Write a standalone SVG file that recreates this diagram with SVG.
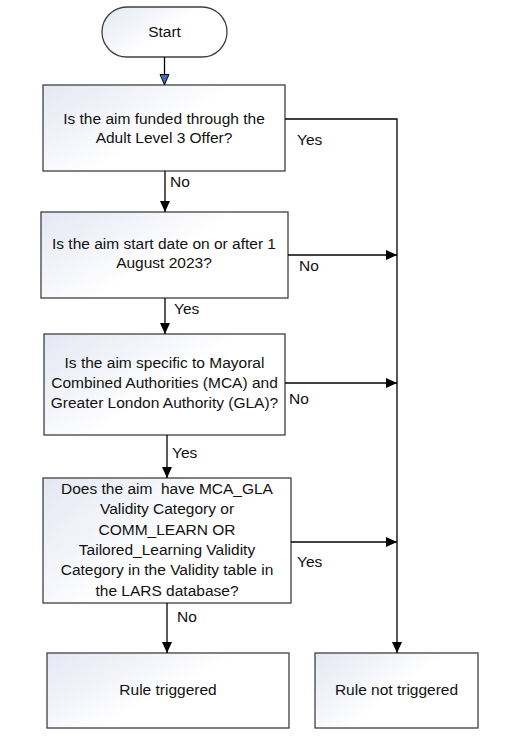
<svg xmlns="http://www.w3.org/2000/svg" width="526" height="736" viewBox="0 0 526 736">
<defs>
<linearGradient id="g" x1="0" y1="0" x2="1" y2="0.6">
<stop offset="0" stop-color="#e4e7f4"/>
<stop offset="0.6" stop-color="#ffffff"/>
</linearGradient>
<marker id="ah" markerWidth="12" markerHeight="12" refX="11" refY="5" orient="auto" markerUnits="userSpaceOnUse">
<path d="M0,0 L11,5 L0,10 Z" fill="#000"/>
</marker>
<marker id="ahb" markerWidth="12" markerHeight="12" refX="11" refY="5" orient="auto" markerUnits="userSpaceOnUse">
<path d="M0.5,0.5 L10.5,5 L0.5,9.5 Z" fill="#3f6fba" stroke="#000" stroke-width="1"/>
</marker>
</defs>
<style>
.box{fill:url(#g);stroke:#404040;stroke-width:1.3}
.t{font-family:"Liberation Sans",Arial,sans-serif;font-size:15.5px;fill:#111;text-anchor:middle}
.l{font-family:"Liberation Sans",Arial,sans-serif;font-size:15.5px;fill:#111}
.c{fill:none;stroke:#000;stroke-width:1.3}
</style>
<rect width="526" height="736" fill="#fff"/>
<g id="start">
<rect class="box" x="102" y="7" width="125" height="50" rx="25" ry="25"/>
<text class="t" x="164.5" y="37">Start</text>
</g>
<g id="q1">
<rect class="box" x="43" y="85" width="242" height="86"/>
<text class="t" x="164" y="124">Is the aim funded through the</text>
<text class="t" x="164" y="143">Adult Level 3 Offer?</text>
</g>
<g id="q2">
<rect class="box" x="41" y="212" width="247" height="86"/>
<text class="t" x="164" y="249">Is the aim start date on or after 1</text>
<text class="t" x="164" y="268">August 2023?</text>
</g>
<g id="q3">
<rect class="box" x="44" y="334" width="241" height="101"/>
<text class="t" x="164.5" y="368">Is the aim specific to Mayoral</text>
<text class="t" x="164.5" y="388">Combined Authorities (MCA) and</text>
<text class="t" x="164.5" y="408">Greater London Authority (GLA)?</text>
</g>
<g id="q4">
<rect class="box" x="43" y="478" width="248" height="125"/>
<text class="t" x="167" y="494" xml:space="preserve">Does the aim  have MCA_GLA</text>
<text class="t" x="167" y="514">Validity Category or</text>
<text class="t" x="167" y="535">COMM_LEARN OR</text>
<text class="t" x="167" y="555">Tailored_Learning Validity</text>
<text class="t" x="167" y="575">Category in the Validity table in</text>
<text class="t" x="167" y="596">the LARS database?</text>
</g>
<g id="r1">
<rect class="box" x="47" y="653" width="242" height="75"/>
<text class="t" x="168" y="695">Rule triggered</text>
</g>
<g id="r2">
<rect class="box" x="315" y="653" width="163" height="75"/>
<text class="t" x="396.5" y="695">Rule not triggered</text>
</g>
<g id="connectors">
<path class="c" d="M164.5,57 V85" marker-end="url(#ahb)"/>
<path class="c" d="M165,171 V212" marker-end="url(#ah)"/>
<path class="c" d="M165,298 V334" marker-end="url(#ah)"/>
<path class="c" d="M167,435 V478" marker-end="url(#ah)"/>
<path class="c" d="M167,603 V653" marker-end="url(#ah)"/>
<path class="c" d="M285,119 H397 V653" marker-end="url(#ah)"/>
<path class="c" d="M288,255 H397" marker-end="url(#ah)"/>
<path class="c" d="M285,383 H397" marker-end="url(#ah)"/>
<path class="c" d="M291,542 H397" marker-end="url(#ah)"/>
<text class="l" x="170" y="187">No</text>
<text class="l" x="297" y="145">Yes</text>
<text class="l" x="299" y="271">No</text>
<text class="l" x="174" y="314">Yes</text>
<text class="l" x="289" y="404">No</text>
<text class="l" x="172" y="458">Yes</text>
<text class="l" x="297" y="567">Yes</text>
<text class="l" x="177" y="622">No</text>
</g>
</svg>
